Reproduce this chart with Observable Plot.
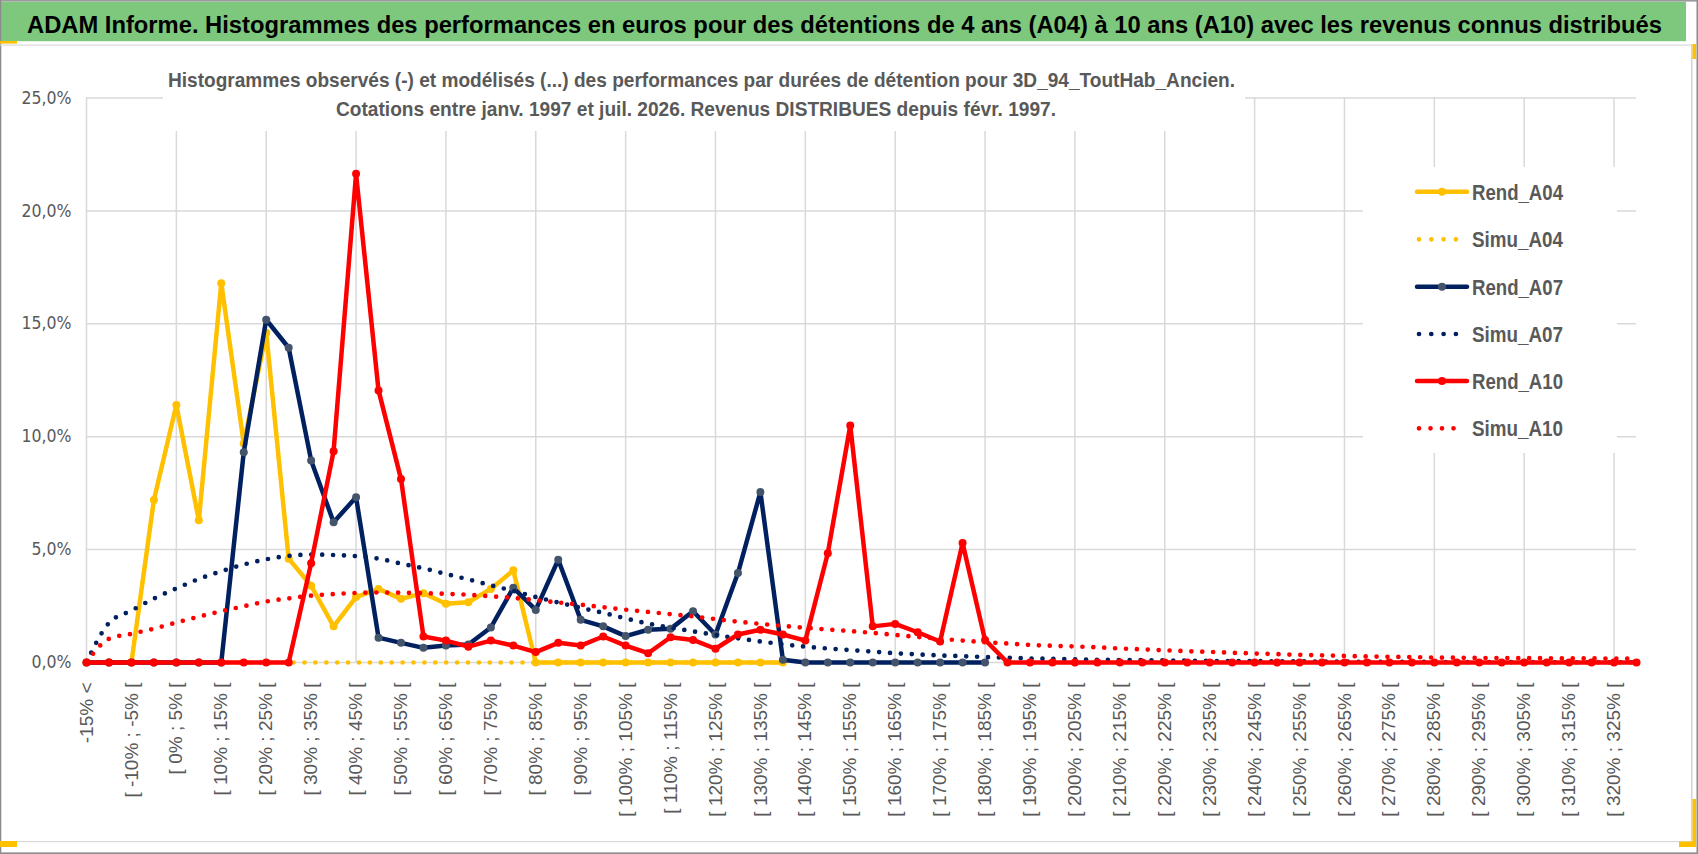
<!DOCTYPE html>
<html><head><meta charset="utf-8">
<script src="https://cdn.jsdelivr.net/npm/d3@7"></script>
<script src="https://cdn.jsdelivr.net/npm/@observablehq/plot@0.6"></script>
<style>
body{margin:0;background:#fff;}
#wrap{position:relative;width:1698px;height:854px;overflow:hidden;background:#fff;}
#title{height:44px;}
#title svg, #chart svg{display:block;}
#overlay{position:absolute;left:0;top:0;pointer-events:none;}
</style></head><body>
<div id="wrap">
<div id="title"><svg width="1698" height="44">
<rect x="0" y="1.7" width="1686" height="39.5" fill="#7DC87D"/>
<text id="titleText" x="27" y="33" font-family="'Liberation Sans',Arial,sans-serif" font-weight="bold" font-size="25" fill="#000">ADAM Informe. Histogrammes des performances en euros pour des détentions de 4 ans (A04) à 10 ans (A10) avec les revenus connus distribués</text>
</svg></div>
<div id="chart"></div>
<svg id="overlay" width="1698" height="854"></svg>
</div>
<script>
const categories = ["-15% <","[ -15% ; -10% [","[ -10% ; -5% [","[ -5% ; 0% [","[ 0% ; 5% [","[ 5% ; 10% [","[ 10% ; 15% [","[ 15% ; 20% [","[ 20% ; 25% [","[ 25% ; 30% [",
"[ 30% ; 35% [","[ 35% ; 40% [","[ 40% ; 45% [","[ 45% ; 50% [","[ 50% ; 55% [","[ 55% ; 60% [","[ 60% ; 65% [","[ 65% ; 70% [","[ 70% ; 75% [","[ 75% ; 80% [",
"[ 80% ; 85% [","[ 85% ; 90% [","[ 90% ; 95% [","[ 95% ; 100% [","[ 100% ; 105% [","[ 105% ; 110% [","[ 110% ; 115% [","[ 115% ; 120% [","[ 120% ; 125% [","[ 125% ; 130% [",
"[ 130% ; 135% [","[ 135% ; 140% [","[ 140% ; 145% [","[ 145% ; 150% [","[ 150% ; 155% [","[ 155% ; 160% [","[ 160% ; 165% [","[ 165% ; 170% [","[ 170% ; 175% [","[ 175% ; 180% [",
"[ 180% ; 185% [","[ 185% ; 190% [","[ 190% ; 195% [","[ 195% ; 200% [","[ 200% ; 205% [","[ 205% ; 210% [","[ 210% ; 215% [","[ 215% ; 220% [","[ 220% ; 225% [","[ 225% ; 230% [",
"[ 230% ; 235% [","[ 235% ; 240% [","[ 240% ; 245% [","[ 245% ; 250% [","[ 250% ; 255% [","[ 255% ; 260% [","[ 260% ; 265% [","[ 265% ; 270% [","[ 270% ; 275% [","[ 275% ; 280% [",
"[ 280% ; 285% [","[ 285% ; 290% [","[ 290% ; 295% [","[ 295% ; 300% [","[ 300% ; 305% [","[ 305% ; 310% [","[ 310% ; 315% [","[ 315% ; 320% [","[ 320% ; 325% [","[ 325% ; 330% ["];

const yTicks = [0, 5, 10, 15, 20, 25];

const rendA04 = [0,0,0,7.2,11.4,6.3,16.8,9.7,14.6,4.6,
 3.4,1.6,2.9,3.26,2.82,3.07,2.6,2.67,3.26,4.08,
 0,0,0,0,0,0,0,0,0,0,
 0,0];
const simuA04 = [0,0,0,0,0,0,0,0,0,0, 0,0,0,0,0,0,0,0,0,0, 0,0,0,0,0,0,0,0,0,0, 0,0];
const rendA07 = [0,0,0,0,0,0,0,9.31,15.18,13.94,
 8.95,6.21,7.32,1.1,0.87,0.65,0.75,0.8,1.55,3.31,
 2.33,4.55,1.89,1.6,1.17,1.45,1.49,2.27,1.24,3.96,
 7.55,0.12,0,0,0,0,0,0,0,0,0];
const simuA07 = [0,1.75,2.3,2.83,3.28,3.7,4.04,4.34,4.57,4.72,
 4.78,4.76,4.71,4.6,4.38,4.17,3.92,3.68,3.42,3.17,
 2.9,2.66,2.42,2.2,1.95,1.72,1.54,1.38,1.22,1.07,
 0.93,0.81,0.7,0.62,0.55,0.48,0.41,0.36,0.31,0.28,
 0.24,0.21,0.18,0.16,0.14,0.12,0.11,0.1,0.09,0.08,
 0.07,0.06,0.06,0.05,0.05,0.04,0.04,0.03,0.03,0.03,
 0.02,0.02,0.02,0.02,0.02,0.01,0.01,0.01,0.01,0.01];
const rendA10 = [0,0,0,0,0,0,0,0,0,0,
 4.4,9.36,21.64,12.05,8.13,1.15,0.97,0.7,0.97,0.75,
 0.46,0.87,0.75,1.15,0.75,0.41,1.12,1.0,0.61,1.24,
 1.45,1.24,0.97,4.84,10.5,1.6,1.71,1.34,0.93,5.29,
 1.0,0,0,0,0,0,0,0,0,0,
 0,0,0,0,0,0,0,0,0,0,
 0,0,0,0,0,0,0,0,0,0];
const simuA10 = [0,1.05,1.27,1.5,1.77,2.03,2.27,2.49,2.7,2.84,
 2.96,3.03,3.08,3.1,3.09,3.07,3.04,3.0,2.93,2.86,
 2.76,2.66,2.56,2.45,2.34,2.24,2.14,2.04,1.92,1.81,
 1.71,1.62,1.54,1.46,1.39,1.31,1.22,1.13,1.05,0.97,
 0.9,0.84,0.78,0.74,0.71,0.67,0.62,0.58,0.54,0.5,
 0.47,0.43,0.4,0.37,0.34,0.32,0.29,0.27,0.25,0.24,
 0.22,0.21,0.2,0.2,0.19,0.19,0.18,0.18,0.17,0.17];

const seriesNames = ["Rend_A04","Simu_A04","Rend_A07","Simu_A07","Rend_A10","Simu_A10"];
const seriesColors = ["#FFC000","#FFC000","#002060","#002060","#FF0000","#FF0000"];
const markerColors = ["#FFC000",null,"#44546A",null,"#FF0000",null];
const seriesData = [rendA04, simuA04, rendA07, simuA07, rendA10, simuA10];

const sans = "'Liberation Sans',Arial,sans-serif";
const narrow = "'Liberation Sans Narrow','Arial Narrow','DejaVu Sans Condensed',sans-serif";

// fit the title inside its bar: shrink the font so its natural width fits, then set exact length
(function(){
  const t = document.getElementById("titleText");
  const target = 1635;
  const len = t.getComputedTextLength();
  const fs = Math.min(25, 25 * (target * 1.02) / len);
  t.setAttribute("font-size", fs);
  t.setAttribute("textLength", target);
  t.setAttribute("lengthAdjust", "spacingAndGlyphs");
})();

function rows(arr){ return arr.map((v, i) => ({cat: categories[i], v})); }

const marks = [
  Plot.ruleY(yTicks, {stroke: "#D9D9D9", strokeWidth: 1.5}),
  Plot.ruleX(categories.filter((d, i) => i % 4 === 0), {stroke: "#D9D9D9", strokeWidth: 1.5}),
  Plot.axisY({ticks: yTicks, tickSize: 0, tickPadding: 15, label: null,
    tickFormat: d => d.toFixed(1).replace(".", ",") + "%",
    fontSize: 17.5, fontFamily: narrow, color: "#595959"}),
  Plot.axisX({ticks: categories.filter((d, i) => i % 2 === 0), tickRotate: -90, tickSize: 0, tickPadding: 20,
    label: null, fontSize: 19, fontFamily: sans, color: "#595959"})
];
seriesData.forEach((arr, k) => {
  const data = rows(arr);
  if (markerColors[k]) {
    marks.push(Plot.line(data, {x: "cat", y: "v", stroke: seriesColors[k], strokeWidth: 4.5, strokeLinejoin: "round", strokeLinecap: "round"}));
    marks.push(Plot.dot(data, {x: "cat", y: "v", r: 4, fill: markerColors[k], stroke: "none"}));
  } else {
    marks.push(Plot.line(data, {x: "cat", y: "v", stroke: seriesColors[k], strokeWidth: 4.7, curve: "monotone-x",
      strokeDasharray: "0 10.9", strokeLinecap: "round"}));
  }
});

const chart = Plot.plot({
  width: 1698, height: 810,
  marginLeft: 86, marginRight: 62, marginTop: 53.5, marginBottom: 192,
  style: {background: "transparent"},
  x: {type: "point", domain: categories, padding: 0},
  y: {domain: [0, 25]},
  marks
});
document.getElementById("chart").appendChild(chart);

// overlay: subtitle, legend, borders
const ov = d3.select("#overlay");
function fitted(sel, target) {
  const len = sel.node().getComputedTextLength();
  const fs = +sel.attr("font-size");
  if (len > target * 1.25) sel.attr("font-size", fs * target * 1.25 / len);
  sel.attr("textLength", target).attr("lengthAdjust", "spacingAndGlyphs");
  return sel;
}
ov.append("rect").attr("x", 163).attr("y", 55).attr("width", 1082).attr("height", 76).attr("fill", "#fff");
fitted(ov.append("text").attr("x", 168).attr("y", 87.3)
  .attr("font-family", sans).attr("font-weight", "bold").attr("font-size", 20.5).attr("fill", "#595959")
  .text("Histogrammes observés (-) et modélisés (...)  des performances par durées de détention pour 3D_94_ToutHab_Ancien."), 1067);
fitted(ov.append("text").attr("x", 336).attr("y", 116)
  .attr("font-family", sans).attr("font-weight", "bold").attr("font-size", 20.5).attr("fill", "#595959")
  .text("Cotations entre janv. 1997 et juil. 2026. Revenus DISTRIBUES depuis févr. 1997."), 720);

// legend
const legendY = [191.7, 239.3, 286.7, 334, 381, 428.3];
ov.append("rect").attr("x", 1363).attr("y", 167).attr("width", 254).attr("height", 286).attr("fill", "#fff");
seriesNames.forEach((name, k) => {
  const y = legendY[k];
  if (markerColors[k]) {
    ov.append("line").attr("x1", 1417).attr("x2", 1467).attr("y1", y).attr("y2", y)
      .attr("stroke", seriesColors[k]).attr("stroke-width", 4.5).attr("stroke-linecap", "round");
    ov.append("circle").attr("cx", 1442).attr("cy", y).attr("r", 4).attr("fill", markerColors[k]);
  } else {
    const x2 = name === "Simu_A10" ? 1465 : 1456;
    ov.append("line").attr("x1", 1419).attr("x2", x2).attr("y1", y).attr("y2", y)
      .attr("stroke", seriesColors[k]).attr("stroke-width", 4.7).attr("stroke-linecap", "round")
      .attr("stroke-dasharray", name === "Simu_A10" ? "0 11.5" : "0 12.3");
  }
  fitted(ov.append("text").attr("x", 1472).attr("y", y + 8)
    .attr("font-family", sans).attr("font-weight", "bold").attr("font-size", 22).attr("fill", "#595959").text(name), 91);
});

// borders and decorations
ov.append("rect").attr("x", 0).attr("y", 0).attr("width", 1698).attr("height", 1.6).attr("fill", "#9A9A9A");
ov.append("rect").attr("x", 0).attr("y", 0).attr("width", 1.3).attr("height", 854).attr("fill", "#8C8C8C");
ov.append("rect").attr("x", 1696.5).attr("y", 0).attr("width", 1.5).attr("height", 854).attr("fill", "#8C8C8C");
ov.append("rect").attr("x", 0).attr("y", 852.4).attr("width", 1698).attr("height", 1.6).attr("fill", "#8C8C8C");
ov.append("rect").attr("x", 0).attr("y", 44.5).attr("width", 1692).attr("height", 1.2).attr("fill", "#D9D9D9");
ov.append("rect").attr("x", 1691.2).attr("y", 44.5).attr("width", 1.2).attr("height", 797).attr("fill", "#C8C8C8");
ov.append("rect").attr("x", 0).attr("y", 841).attr("width", 1692).attr("height", 1.2).attr("fill", "#D9D9D9");
[[0, 41, 17, 2.6], [0, 841, 17, 6], [1692.5, 799, 3.6, 48], [1679, 841.5, 17, 5.5], [1692.5, 44, 3.6, 15]].forEach(r =>
  ov.append("rect").attr("x", r[0]).attr("y", r[1]).attr("width", r[2]).attr("height", r[3]).attr("fill", "#FFC000"));
</script>
</body></html>
